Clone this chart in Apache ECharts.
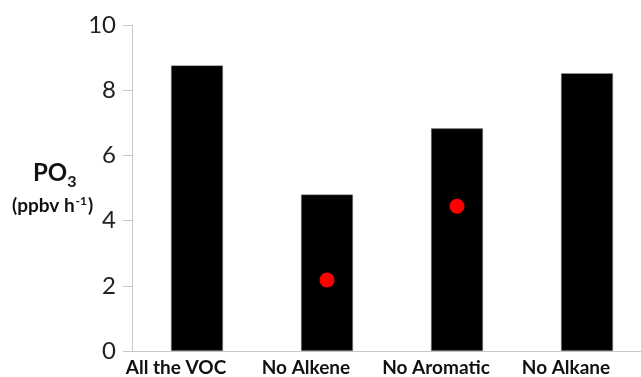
<!DOCTYPE html>
<html>
<head>
<meta charset="utf-8">
<script src="https://cdn.jsdelivr.net/npm/echarts@6/dist/echarts.min.js"></script>
<style>html,body{margin:0;padding:0;background:#fff;overflow:hidden;width:641px;height:377px;}#c{width:670px;height:377px;}</style>
</head>
<body>
<div id="c"></div>
<script>
const categories = ['All the VOC', 'No Alkene', 'No Aromatic', 'No Alkane'];
const barValues = [8.76, 4.80, 6.83, 8.52];
const dotValues = [null, 2.18, 4.44, null];
const yTicks = [0, 2, 4, 6, 8, 10];

const chart = echarts.init(document.getElementById('c'), null, {renderer: 'canvas'});
chart.setOption({
  animation: false,
  backgroundColor: '#ffffff',
  grid: {left: 132, top: 25, width: 520, height: 327, containLabel: false},
  xAxis: {
    type: 'category',
    data: categories,
    axisLine: {lineStyle: {color: '#c8c8c8', width: 1}},
    axisTick: {show: false},
    axisLabel: {
      color: '#111', fontFamily: 'Lato', fontWeight: 'bold', fontSize: 19,
      margin: 7, padding: [0, 42, 0, 0], interval: 0
    }
  },
  yAxis: {
    type: 'value', min: yTicks[0], max: yTicks[yTicks.length - 1], interval: 2,
    splitLine: {show: false},
    axisLine: {show: true, lineStyle: {color: '#c8c8c8', width: 1}},
    axisTick: {show: true, length: 9, lineStyle: {color: '#c8c8c8'}},
    axisLabel: {color: '#222', fontFamily: 'Lato', fontSize: 24, margin: 16}
  },
  graphic: [
    {type: 'text', left: 33, top: 161, style: {
      text: '{a|PO}{b|3}', rich: {
        a: {fontFamily: 'Lato', fontWeight: 'bold', fontSize: 24, fill: '#111', verticalAlign: 'bottom'},
        b: {fontFamily: 'Lato', fontWeight: 'bold', fontSize: 16, fill: '#111', verticalAlign: 'bottom', padding: [0, 0, -5, 0]}
      }}},
    {type: 'text', left: 12, top: 195, style: {
      text: '{a|(ppbv h}{b|-1}{a|)}', rich: {
        a: {fontFamily: 'Lato', fontWeight: 'bold', fontSize: 19, fill: '#111', verticalAlign: 'bottom'},
        b: {fontFamily: 'Lato', fontWeight: 'bold', fontSize: 12, fill: '#111', verticalAlign: 'top', padding: [0, 1, 8, 1]}
      }}}
  ],
  series: [
    {type: 'bar', data: barValues, barWidth: 52,
     itemStyle: {color: '#000', borderColor: '#999', borderWidth: 0.5}},
    {type: 'scatter', data: dotValues, symbolSize: 15, z: 5,
     itemStyle: {color: '#ff0000', opacity: 1}}
  ]
});
</script>
</body>
</html>
